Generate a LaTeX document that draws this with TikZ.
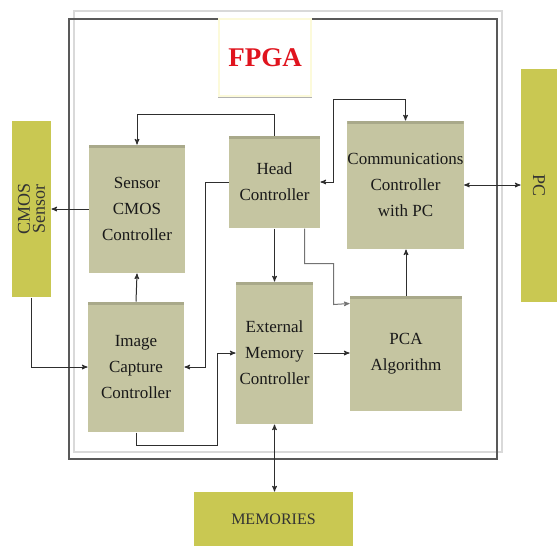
\documentclass[tikz,border=0pt]{standalone}
\usepackage{xcolor}
\usepackage{fontspec}
\setmainfont{Liberation Serif}
\usepackage{tikz}
\usetikzlibrary{arrows}

\definecolor{blockfill}{HTML}{C5C5A1}
\definecolor{blocktop}{HTML}{A9A98A}
\definecolor{extfill}{HTML}{C9C852}
\definecolor{wirecol}{HTML}{2E2E2E}
\definecolor{fpgared}{HTML}{E0141E}

\begin{document}
\begin{tikzpicture}[x=1pt,y=-1pt,->,>=stealth',thick,line width=1pt,
    block/.style={rectangle,fill=blockfill,text=black!90,align=center,inner sep=0pt,
      font=\fontsize{17}{26}\selectfont,
      path picture={\fill[blocktop] (path picture bounding box.north west) rectangle ([yshift=-3pt]path picture bounding box.north east);}},
    extbox/.style={rectangle,fill=extfill,text=black!80,align=center,inner sep=0pt,
      font=\fontsize{18}{19}\selectfont},
    wire/.style={draw=wirecol}]
  \useasboundingbox (0,0) rectangle (557,546);

  % FPGA frame
  \draw[-,black!15,line width=1.2pt] (74,11) rectangle (502,452);
  \draw[-,black!65,line width=1.1pt] (69,19) rectangle (497,459);
  \node[draw=black!10!yellow!15,fill=white,line width=1.2pt,minimum width=92,minimum height=77,
    font=\fontsize{27}{28}\selectfont\bfseries,text=fpgared] (fpga) at (265,57.5) {FPGA};
  \draw[-,black!30,line width=1.5pt] ([yshift=-1pt]fpga.south west) -- ([yshift=-1pt]fpga.south east);

  % blocks
  \node[block,minimum width=96,minimum height=128] (sensorc) at (137,209) {Sensor\\CMOS\\Controller};
  \node[block,minimum width=91,minimum height=92] (head) at (274.5,182) {Head\\Controller};
  \node[block,minimum width=115,minimum height=128] (comm) at (405.5,185) {Communications\\Controller\\with PC};
  \node[block,minimum width=96,minimum height=130] (capture) at (136,367) {Image\\Capture\\Controller};
  \node[block,minimum width=77,minimum height=142] (extmem) at (274.5,353) {External\\Memory\\Controller};
  \node[block,minimum width=112,minimum height=115] (pca) at (406,353.5) {PCA\\Algorithm};

  % outside
  \node[extbox,minimum width=39,minimum height=176] (cmos) at (31.5,209) {\rotatebox{90}{\shortstack{CMOS\\Sensor}}};
  \node[extbox,minimum width=36,minimum height=233] (pc) at (539,185.5) {\rotatebox{-90}{PC}};
  \node[extbox,minimum width=159,minimum height=54,font=\fontsize{16}{17}\selectfont] (mem) at (273.5,519) {MEMORIES};

  % connections
  \draw[wire] (head.north) -- ++(0,-21) -| (sensorc.north);
  \draw[wire] (sensorc.west) -- (cmos.east);
  \draw[wire] (capture.north) -- (sensorc.south);
  \draw[wire] (cmos.south) |- (capture.west);
  \draw[wire] (head.west) -- ++(-23,0) |- (capture.east);
  \draw[wire] (capture.south) -- ++(0,13) -| ([xshift=-18pt]extmem.west) -- (extmem.west);
  \draw[wire] (head.south) -- (extmem.north);
  \draw[draw=black!55] ([xshift=30pt]head.south) -- ++(0,35) -| ++(29,41) -- ([yshift=-8pt]pca.north west);
  \draw[wire] (extmem.east) -- (extmem.east -| pca.west);
  \draw[wire] (pca.north) -- (pca.north |- comm.south);
  \draw[wire,<->] (head.east) -- ++(13,0) |- ([yshift=21pt]comm.north) -- (comm.north);
  \draw[wire,<->] (comm.east) -- (comm.east -| pc.west);
  \draw[wire,<->] (extmem.south) -- (extmem.south |- mem.north);
\end{tikzpicture}
\end{document}
